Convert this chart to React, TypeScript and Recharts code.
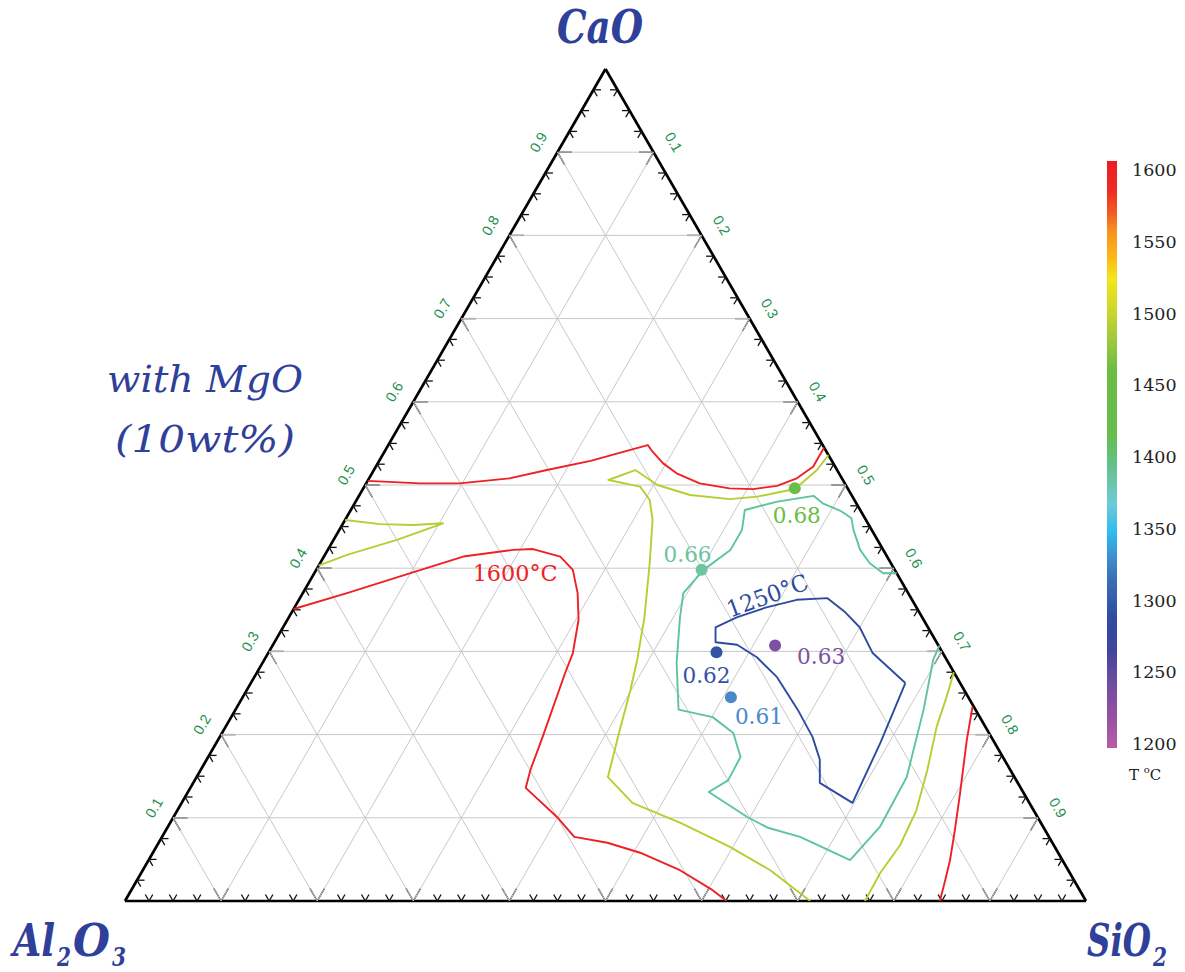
import React from 'react';
import { ReferenceLine, Scatter, ScatterChart, XAxis, YAxis } from 'recharts';

// Ternary CaO - Al2O3 - SiO2 (10 wt% MgO). Every point is [CaO, SiO2] mass fraction, Al2O3 = rest.
type Comp = [number, number];

const H = Math.sqrt(3) / 2;

const gridValues = [0.1, 0.2, 0.3, 0.4, 0.5, 0.6, 0.7, 0.8, 0.9];
const gridLabels = ['0.1', '0.2', '0.3', '0.4', '0.5', '0.6', '0.7', '0.8', '0.9'];
const tickStep = 0.025;

const colorbarValues = [1600, 1550, 1500, 1450, 1400, 1350, 1300, 1250, 1200];

// 1600 °C liquidus
const red1600Upper: Comp[] = [
    [0.505, 0], [0.502, 0.056], [0.502, 0.097], [0.508, 0.146], [0.518, 0.18], [0.529, 0.22],
    [0.539, 0.246], [0.548, 0.27], [0.54, 0.279], [0.526, 0.297], [0.514, 0.317], [0.502, 0.347],
    [0.496, 0.381], [0.495, 0.406], [0.499, 0.429], [0.508, 0.445], [0.522, 0.455], [0.545, 0.455],
];
const red1600Lower: Comp[] = [
    [0.351, 0], [0.37, 0.046], [0.395, 0.102], [0.414, 0.145], [0.422, 0.193], [0.423, 0.213],
    [0.414, 0.246], [0.398, 0.267], [0.37, 0.286], [0.338, 0.303], [0.298, 0.317], [0.274, 0.321],
    [0.197, 0.336], [0.158, 0.343], [0.136, 0.349], [0.101, 0.399], [0.077, 0.429], [0.07, 0.467],
    [0.058, 0.507], [0.037, 0.559], [0.013, 0.605], [0, 0.626],
];
const red1600Silica: Comp[] = [
    [0.234, 0.765], [0.194, 0.779], [0.13, 0.804], [0.085, 0.821], [0.049, 0.834], [0.025, 0.841], [0, 0.848],
];

// 1500 °C
const yel1500Wedge: Comp[] = [
    [0.458, 0], [0.453, 0.039], [0.452, 0.074], [0.454, 0.104], [0.434, 0.066], [0.416, 0.023], [0.403, 0],
];
const yel1500Main: Comp[] = [
    [0.536, 0.464], [0.518, 0.461], [0.5, 0.452], [0.494, 0.445], [0.486, 0.415], [0.483, 0.388],
    [0.488, 0.344], [0.5, 0.304], [0.518, 0.272], [0.506, 0.25], [0.498, 0.287], [0.482, 0.305],
    [0.458, 0.32], [0.406, 0.343], [0.341, 0.37], [0.29, 0.388], [0.254, 0.399], [0.206, 0.412],
    [0.149, 0.428], [0.118, 0.469], [0.094, 0.531], [0.065, 0.597], [0.037, 0.653], [0, 0.713],
];
const yel1500Silica: Comp[] = [
    [0.275, 0.725], [0.242, 0.733], [0.209, 0.74], [0.158, 0.756], [0.109, 0.769], [0.067, 0.773],
    [0.034, 0.769], [0, 0.77],
];

// 1400 °C
const teal1400: Comp[] = [
    [0.394, 0.606], [0.394, 0.592], [0.406, 0.572], [0.422, 0.554], [0.446, 0.535], [0.46, 0.526],
    [0.469, 0.51], [0.478, 0.487], [0.487, 0.473], [0.48, 0.439], [0.47, 0.41], [0.446, 0.419],
    [0.422, 0.419], [0.398, 0.403], [0.37, 0.396], [0.341, 0.407], [0.286, 0.431], [0.23, 0.461],
    [0.221, 0.501], [0.202, 0.532], [0.173, 0.554], [0.145, 0.555], [0.131, 0.542], [0.101, 0.597],
    [0.088, 0.625], [0.077, 0.664], [0.049, 0.73], [0.089, 0.741], [0.149, 0.739], [0.23, 0.716],
    [0.29, 0.696], [0.307, 0.694],
];

// 1250 °C
const blue1250: Comp[] = [
    [0.262, 0.681], [0.298, 0.629], [0.329, 0.6], [0.347, 0.576], [0.364, 0.549], [0.362, 0.518],
    [0.353, 0.491], [0.341, 0.466], [0.329, 0.45], [0.311, 0.459], [0.308, 0.483], [0.293, 0.511],
    [0.269, 0.544], [0.23, 0.585], [0.197, 0.617], [0.17, 0.638], [0.142, 0.652], [0.118, 0.698],
    [0.19, 0.691], [0.262, 0.681],
];

// marked compositions and their values
const markPoints: Comp[] = [[0.496, 0.449], [0.398, 0.401], [0.299, 0.466], [0.245, 0.508], [0.307, 0.523]];
const markValues = ['0.68', '0.66', '0.62', '0.61', '0.63'];
const markColors = ['#6abd45', '#6cc4a0', '#3353a3', '#4a88c9', '#7b52a3'];
const markOffsets = [[2, 27], [-14, -16], [-10, 23], [28, 19], [46, 10]];

const isoLabelPoints: Comp[] = [[0.394, 0.209], [0.367, 0.485]];
const isoLabels = ['1600°C', '1250°C'];

const RED = '#ee2024';
const YEL = '#b4cf32';
const TEAL = '#5ec49a';
const BLUE = '#2f4ba0';
const TITLE = '#2e4099';
const TICK_GREEN = '#1c8f4d';

const toXY = ([c, s]: Comp) => ({ x: s + c / 2, y: c * H });

const curves = [
    { name: 'red1600Upper', pts: red1600Upper, color: RED },
    { name: 'red1600Lower', pts: red1600Lower, color: RED },
    { name: 'red1600Silica', pts: red1600Silica, color: RED },
    { name: 'yel1500Wedge', pts: yel1500Wedge, color: YEL },
    { name: 'yel1500Main', pts: yel1500Main, color: YEL },
    { name: 'yel1500Silica', pts: yel1500Silica, color: YEL },
    { name: 'teal1400', pts: teal1400, color: TEAL },
    { name: 'blue1250', pts: blue1250, color: BLUE },
];

// grid lines: constant CaO, constant SiO2, constant Al2O3
const gridLines = gridValues.flatMap((v) => [
    [toXY([v, 0]), toXY([v, 1 - v])],
    [toXY([0, v]), toXY([1 - v, v])],
    [toXY([0, 1 - v]), toXY([1 - v, 0])],
]);

const tickValues = Array.from({ length: 39 }, (_, i) => (i + 1) * tickStep);
const MINOR = 0.0078;
const MAJOR = 0.0152;
const tickSegments = tickValues.flatMap((t) => {
    const L = Math.abs(t * 10 - Math.round(t * 10)) < 1e-6 ? MAJOR : MINOR;
    const b = { x: t, y: 0 };
    const l = toXY([t, 0]);
    const r = toXY([1 - t, t]);
    return [
        [b, { x: b.x + L * 0.5, y: L * H }],
        [b, { x: b.x - L * 0.5, y: L * H }],
        [l, { x: l.x + L, y: l.y }],
        [l, { x: l.x + L * 0.5, y: l.y - L * H }],
        [r, { x: r.x - L, y: r.y }],
        [r, { x: r.x - L * 0.5, y: r.y - L * H }],
    ];
});

const edges = [
    [{ x: 0, y: 0 }, { x: 1, y: 0 }],
    [{ x: 0, y: 0 }, { x: 0.5, y: H }],
    [{ x: 1, y: 0 }, { x: 0.5, y: H }],
];

const leftLabelData = gridValues.map((v, i) => ({ ...toXY([v, 0]), label: gridLabels[i] }));
const rightLabelData = gridValues.map((v, i) => ({ ...toXY([1 - v, v]), label: gridLabels[i] }));
const bottomLabelData = gridValues.map((v, i) => ({ ...toXY([0, 1 - v]), label: gridLabels[i] }));

const markData = markPoints.map((p, i) => ({ ...toXY(p), label: markValues[i], color: markColors[i], off: markOffsets[i] }));
const isoData = isoLabelPoints.map((p, i) => ({ ...toXY(p), label: isoLabels[i] }));

const NoDot = () => <g />;

const tickText = (dx: number, dy: number, rot: number, size: number) => (p: any) => {
    const x = p.cx + dx;
    const y = p.cy + dy;
    return (
        <text
            x={x}
            y={y}
            textAnchor="middle"
            dominantBaseline="central"
            transform={rot ? `rotate(${rot} ${x} ${y})` : undefined}
            fontFamily="'Liberation Sans', Arial, sans-serif"
            fontSize={size}
            fill={TICK_GREEN}
        >
            {p.payload.label}
        </text>
    );
};

const MarkShape = (p: any) => {
    const d = p.payload;
    return (
        <g>
            <circle cx={p.cx} cy={p.cy} r={6} fill={d.color} />
            <text
                x={p.cx + d.off[0]}
                y={p.cy + d.off[1]}
                textAnchor="middle"
                dominantBaseline="central"
                fontFamily="'DejaVu Serif', serif"
                fontSize={23}
                textLength={48}
                lengthAdjust="spacingAndGlyphs"
                fill={d.color}
            >
                {d.label}
            </text>
        </g>
    );
};

const IsoShape = (p: any) => {
    const isBlue = p.payload.label === '1250°C';
    return (
        <text
            x={p.cx}
            y={p.cy}
            textAnchor="middle"
            dominantBaseline="central"
            transform={isBlue ? `rotate(-20 ${p.cx} ${p.cy})` : undefined}
            fontFamily="'DejaVu Serif', serif"
            fontSize={23}
            textLength={85}
            lengthAdjust="spacingAndGlyphs"
            fill={isBlue ? BLUE : RED}
        >
            {p.payload.label}
        </text>
    );
};

const barStops = [
    [0, '#ed1c24'], [0.05, '#ee2a24'], [0.087, '#f15a24'], [0.121, '#f7941d'], [0.163, '#fbb616'],
    [0.2, '#f5e51a'], [0.26, '#c8d52e'], [0.306, '#9dc83c'], [0.357, '#6bbd45'], [0.468, '#68bd4f'],
    [0.508, '#60c07e'], [0.544, '#6ac4a6'], [0.585, '#6ccbd8'], [0.634, '#2bbcee'], [0.675, '#3d8fd0'],
    [0.714, '#3a6db4'], [0.782, '#2f4ba0'], [0.833, '#40459b'], [0.884, '#6a4c9f'], [0.939, '#914fa2'],
    [1, '#b65ca6'],
];

function Overlay() {
    const serif = "'DejaVu Serif', serif";
    const fit = 'spacingAndGlyphs';
    return (
        <svg width={1185} height={972} style={{ position: 'absolute', left: 0, top: 0, pointerEvents: 'none' }}>
            <defs>
                <linearGradient id="tbar" x1="0" y1="0" x2="0" y2="1">
                    {barStops.map(([o, c]) => (
                        <stop key={String(o)} offset={o as number} stopColor={c as string} />
                    ))}
                </linearGradient>
            </defs>
            <g fontFamily={serif} fontWeight="bold" fontStyle="italic" fill={TITLE}>
                <text x={557} y={43} fontSize={46} textLength={86} lengthAdjust={fit}>CaO</text>
                <text x={13} y={956} fontSize={44} textLength={42} lengthAdjust={fit}>Al</text>
                <text x={57} y={966} fontSize={26} textLength={14} lengthAdjust={fit}>2</text>
                <text x={73} y={956} fontSize={44} textLength={37} lengthAdjust={fit}>O</text>
                <text x={112} y={966} fontSize={26} textLength={14} lengthAdjust={fit}>3</text>
                <text x={1087} y={956} fontSize={44} textLength={64} lengthAdjust={fit}>SiO</text>
                <text x={1153} y={966} fontSize={26} textLength={14} lengthAdjust={fit}>2</text>
            </g>
            <g fontFamily={serif} fontStyle="italic" fill={TITLE} fontSize={37}>
                <text x={107} y={392} textLength={196} lengthAdjust={fit}>with MgO</text>
                <text x={115} y={452} textLength={180} lengthAdjust={fit}>(10wt%)</text>
            </g>
            <rect x={1107} y={161} width={10} height={587} fill="url(#tbar)" />
            <g fontFamily={serif} fontSize={17.5} fill="#222">
                {colorbarValues.map((v, i) => (
                    <text key={v} x={1132} y={170 + i * 71.75} dominantBaseline="central">
                        {v}
                    </text>
                ))}
                <text x={1129} y={780} fontSize={15}>
                    T <tspan fontSize={10} dy={-7}>o</tspan>
                    <tspan dy={7}>C</tspan>
                </text>
            </g>
        </svg>
    );
}

export default function App() {
    return (
        <div style={{ position: 'absolute', left: 0, top: 0, width: 1185, height: 972, background: '#fff' }}>
            <ScatterChart width={1185} height={972} margin={{ top: 69, right: 99, bottom: 71, left: 125 }}>
                <XAxis type="number" dataKey="x" domain={[0, 1]} hide allowDataOverflow />
                <YAxis type="number" dataKey="y" domain={[0, H]} hide allowDataOverflow />
                {gridLines.map((seg, i) => (
                    <Scatter
                        key={`g${i}`}
                        data={seg}
                        fill="#c8c8c8"
                        line={{ stroke: '#c8c8c8', strokeWidth: 1 }}
                        shape={NoDot}
                        isAnimationActive={false}
                    />
                ))}
                {curves.map((c) => (
                    <Scatter
                        key={c.name}
                        name={c.name}
                        data={c.pts.map(toXY)}
                        fill={c.color}
                        line={{ stroke: c.color, strokeWidth: 1.9, strokeLinejoin: 'round' }}
                        shape={NoDot}
                        isAnimationActive={false}
                    />
                ))}
                {edges.map((seg, i) => (
                    <ReferenceLine key={`e${i}`} segment={seg} stroke="#000" strokeWidth={2.7} ifOverflow="visible" />
                ))}
                {tickSegments.map((seg, i) => (
                    <ReferenceLine key={`t${i}`} segment={seg} stroke="#111" strokeWidth={1.3} ifOverflow="visible" />
                ))}
                <Scatter data={leftLabelData} shape={tickText(-19, -10, -60, 14.5)} isAnimationActive={false} />
                <Scatter data={rightLabelData} shape={tickText(20, -10, 60, 14.5)} isAnimationActive={false} />
                <Scatter data={bottomLabelData} shape={tickText(0, 28, 0, 15.5)} isAnimationActive={false} />
                <Scatter data={markData} shape={MarkShape} isAnimationActive={false} />
                <Scatter data={isoData} shape={IsoShape} isAnimationActive={false} />
            </ScatterChart>
            <Overlay />
        </div>
    );
}
